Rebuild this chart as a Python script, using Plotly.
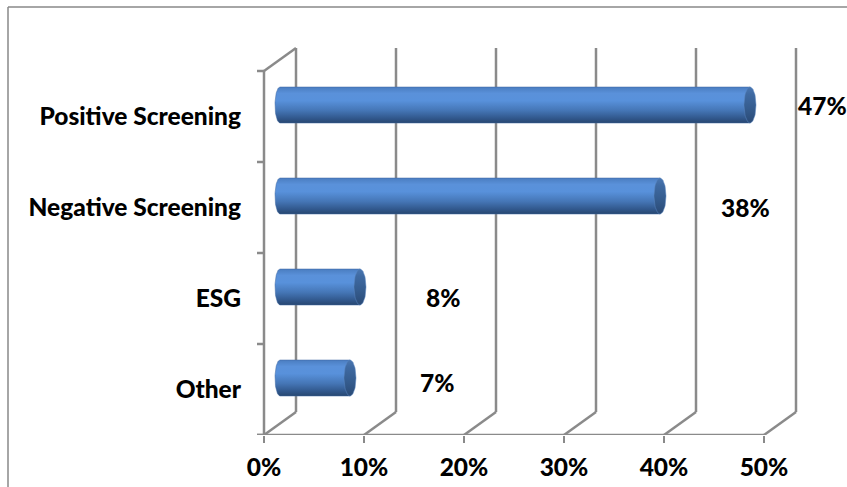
import numpy as np
import plotly.graph_objects as go

# Survey shares by approach (percent)
categories = ["Other", "ESG", "Negative Screening", "Positive Screening"]
values = [7, 8, 38, 47]
x_ticks = [0, 10, 20, 30, 40, 50]
x_tick_labels = ["0%", "10%", "20%", "30%", "40%", "50%"]

W, H = 847, 487
M_L, M_R, M_T, M_B = 242, 10, 40, 52
PX_PER_X = 10.0          # pixels per percentage point
PX_PER_Y = 91.0          # pixels per category slot
X0 = -(264 - M_L) / PX_PER_X
X1 = X0 + (W - M_L - M_R) / PX_PER_X
Y0 = -0.5
Y1 = Y0 + (H - M_T - M_B) / PX_PER_Y

# 3-D depth offset of the back wall
DX = 32 / PX_PER_X
DY = 23 / PX_PER_Y

GRID = "#8a8a8a"
FONT = "Lato"
TEXT_FONT = dict(family=FONT, size=24.5, color="black", weight=900)

body_scale = [
    [0.0, "#284770"], [0.12, "#30568a"], [0.35, "#4576b6"],
    [0.62, "#5891db"], [0.82, "#5a91da"], [1.0, "#4a7dc0"],
]
cap_scale = [
    [0.0, "#2a4a76"], [0.4, "#355c8e"], [0.8, "#3f6aa2"], [1.0, "#4a77b2"],
]

fig = go.Figure()

half_h = 18 / PX_PER_Y
cap_w = 6 / PX_PER_X
left_w = 5 / PX_PER_X
t = np.linspace(0, np.pi, 40)

for i, v in enumerate(values):
    yc = i + DY / 2
    xa = DX / 2
    xb = DX / 2 + v
    # cylinder body: rounded left end + straight run to the cap
    lx = xa - left_w * np.sin(t)
    ly = yc + half_h * np.cos(t)
    bx = np.concatenate([lx, [xb, xb, xa]])
    by = np.concatenate([ly, [yc - half_h, yc + half_h, yc + half_h]])
    fig.add_trace(go.Scatter(
        x=bx, y=by, mode="lines", fill="toself",
        line=dict(width=0.5, color="#3c66a0"),
        fillgradient=dict(type="vertical", colorscale=body_scale,
                          start=yc - half_h, stop=yc + half_h),
        hoverinfo="skip", showlegend=False,
    ))
    # elliptical end cap
    a = np.linspace(0, 2 * np.pi, 60)
    fig.add_trace(go.Scatter(
        x=xb + cap_w * np.cos(a), y=yc + half_h * np.sin(a),
        mode="lines", fill="toself",
        line=dict(width=0.5, color="#5a86c0"),
        fillgradient=dict(type="vertical", colorscale=cap_scale,
                          start=yc - half_h, stop=yc + half_h),
        hoverinfo="skip", showlegend=False,
    ))

shapes = []


def seg(x0, y0, x1, y1, color=GRID, width=2.5):
    shapes.append(dict(type="line", xref="x", yref="y",
                       x0=x0, y0=y0, x1=x1, y1=y1, layer="below",
                       line=dict(color=color, width=width)))


top = len(categories) - 0.5
# back wall verticals and floor diagonals
for tv in x_ticks:
    seg(tv + DX, Y0 + DY, tv + DX, top + DY)
    seg(tv, Y0, tv + DX, Y0 + DY)
# side wall front edge and top edge
seg(0, Y0, 0, top)
seg(0, top, DX, top + DY)
# front floor edge
seg(-0.7, Y0, x_ticks[-1], Y0)
# category boundary ticks
for k in range(len(categories) + 1):
    b = Y0 + k
    seg(-0.7, b, 0, b)


# chart area border (top and left)
def px_x(p):
    return (p - M_L) / (W - M_L - M_R)


def px_y(p):
    return (H - M_B - p) / (H - M_T - M_B)


shapes.append(dict(type="line", xref="paper", yref="paper",
                   x0=px_x(8), y0=px_y(7), x1=px_x(W), y1=px_y(7),
                   line=dict(color="#888888", width=1.5)))
shapes.append(dict(type="line", xref="paper", yref="paper",
                   x0=px_x(8), y0=px_y(7), x1=px_x(8), y1=px_y(H),
                   line=dict(color="#888888", width=1.5)))

# value labels
label_gap = 8.3
label_nudge = [(4, -4), (0, -10), (2, -11), (-11, 0)]
annotations = []
for i, v in enumerate(values):
    dxp, dyp = label_nudge[i]
    annotations.append(dict(
        x=v + DX / 2 + label_gap, y=i + DY / 2, xref="x", yref="y",
        text=f"{v}%", showarrow=False, xshift=dxp, yshift=dyp,
        font=TEXT_FONT,
    ))

fig.update_layout(
    width=W, height=H,
    margin=dict(l=M_L, r=M_R, t=M_T, b=M_B, autoexpand=False),
    paper_bgcolor="white", plot_bgcolor="white",
    shapes=shapes, annotations=annotations,
    xaxis=dict(range=[X0, X1], tickvals=x_ticks, ticktext=x_tick_labels,
               showgrid=False, zeroline=False, showline=False,
               ticks="outside", ticklen=7, tickwidth=2, tickcolor=GRID,
               ticklabelstandoff=4, automargin=False,
               tickfont=TEXT_FONT, fixedrange=True),
    yaxis=dict(range=[Y0, Y1], tickvals=list(range(len(categories))),
               ticktext=categories, showgrid=False, zeroline=False,
               showline=False, ticks="", automargin=False,
               tickfont=TEXT_FONT, fixedrange=True),
    showlegend=False,
)

fig.write_html("out.html")
